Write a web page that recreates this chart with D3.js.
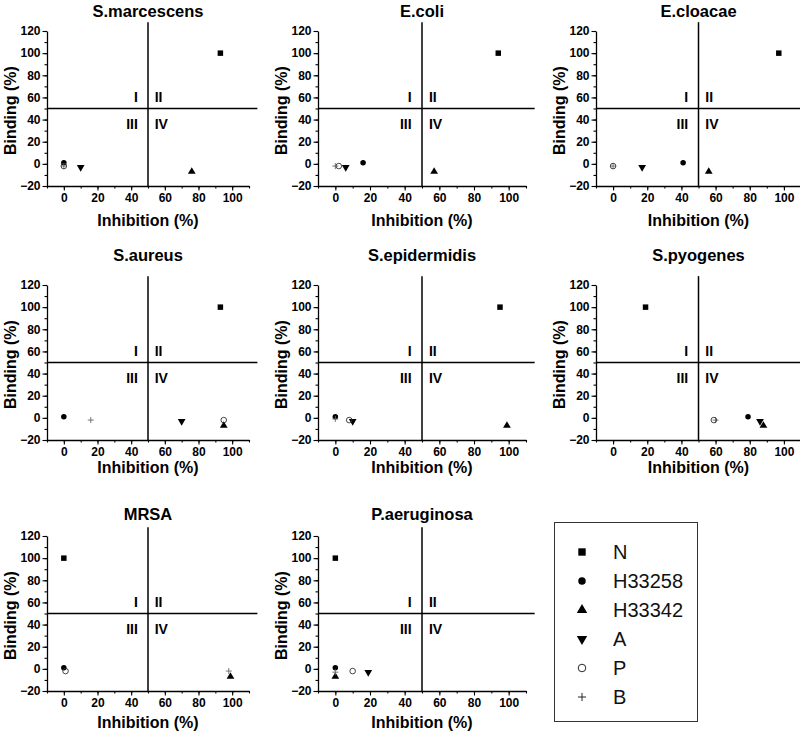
<!DOCTYPE html>
<html><head><meta charset="utf-8">
<script src="https://cdn.jsdelivr.net/npm/d3@7"></script>
<style>
body{margin:0;background:#fff;}
svg{display:block;font-family:"Liberation Sans",Arial,sans-serif;}
</style></head>
<body><svg id="chart" width="800" height="733"></svg>
<script>
// ---- data ----
const panels = ["S.marcescens","E.coli","E.cloacae","S.aureus","S.epidermidis","S.pyogenes","MRSA","P.aeruginosa"];
const seriesNames = ["N","H33258","H33342","A","P","B"];
const nInhibition      = [93, 94, 97, 93, 95, 19, 0, 0];
const nBinding         = [100,100,100,100,100,100,100,100];
const h33258Inhibition = [0, 16, 41, 0, 0, 79, 0, 0];
const h33258Binding    = [1, 1, 1, 1, 1, 1, 1, 1];
const h33342Inhibition = [76, 57, 56, 95, 99, 88, 99, 0];
const h33342Binding    = [-7, -7, -7, -7, -7, -7, -7, -7];
const aInhibition      = [10, 6, 17, 70, 10, 86, null, 19];
const aBinding         = [-3, -3, -3, -3, -3, -3, null, -3];
const pInhibition      = [0, 2, 0, 95, 8, 59, 1, 10];
const pBinding         = [-2, -2, -2, -2, -2, -2, -2, -2];
const bInhibition      = [0, 0, 0, 16, 0, 60, 98, 0];
const bBinding         = [-2, -2, -2, -2, -1, -2, -2, -3];
const xTicks = [0, 20, 40, 60, 80, 100];
const yTicks = [-20, 0, 20, 40, 60, 80, 100, 120];
const quadrantLabels = ["I","II","III","IV"];
const xLabel = "Inhibition (%)", yLabel = "Binding (%)";

const seriesData = [
  {name:"N", x:nInhibition, y:nBinding},
  {name:"H33258", x:h33258Inhibition, y:h33258Binding},
  {name:"H33342", x:h33342Inhibition, y:h33342Binding},
  {name:"A", x:aInhibition, y:aBinding},
  {name:"P", x:pInhibition, y:pBinding},
  {name:"B", x:bInhibition, y:bBinding}
];

// ---- layout ----
const colLeft = [47, 318, 596], colWidth = [202, 208, 205];
const rowTop = [31, 285, 536], plotH = 155;
const titleOff = [14, 24, 16], xLabOff = [40, 33, 37];

const svg = d3.select("#chart");

function marker(g, name, big, x, y) {
  const s = big ? 1.35 : 1;
  if (name === "N") {
    g.append("path").attr("d", d3.symbol(d3.symbolSquare, 30*s*s)()).attr("transform",`translate(${x},${y})`).attr("fill","#000");
  } else if (name === "H33258") {
    g.append("path").attr("d", d3.symbol(d3.symbolCircle, 24*s*s)()).attr("transform",`translate(${x},${y})`).attr("fill","#000");
  } else if (name === "H33342") {
    g.append("path").attr("d", d3.symbol(d3.symbolTriangle, 26*s*s)()).attr("transform",`translate(${x},${y})`).attr("fill","#000");
  } else if (name === "A") {
    g.append("path").attr("d", d3.symbol(d3.symbolTriangle, 26*s*s)()).attr("transform",`translate(${x},${y}) rotate(180)`).attr("fill","#000");
  } else if (name === "P") {
    g.append("circle").attr("cx",x).attr("cy",y).attr("r",2.8*s).attr("fill","none").attr("stroke", big ? "#111" : "#333").attr("stroke-width",0.9);
  } else if (name === "B") {
    const h = 3*s;
    g.append("path").attr("d",`M${x-h},${y}H${x+h}M${x},${y-h}V${y+h}`).attr("stroke", big ? "#111" : "#666").attr("stroke-width",0.9).attr("fill","none");
  }
}

panels.forEach((title, i) => {
  const r = Math.floor(i/3), c = i%3;
  const left = colLeft[c], top = rowTop[r], w = colWidth[c];
  const x = d3.scaleLinear().domain([-10,110]).range([left, left+w]);
  const y = d3.scaleLinear().domain([-20,120]).range([top+plotH, top]);
  const g = svg.append("g");

  // axes
  const xMinor = d3.range(-10, 111, 10);
  const yMinor = d3.range(-20, 121, 10);
  g.append("g").attr("transform",`translate(0,${top+plotH})`)
    .call(d3.axisBottom(x).tickValues(xMinor).tickSize(2.5).tickFormat("").tickSizeOuter(0))
    .call(a=>a.select(".domain").remove());
  g.append("g").attr("transform",`translate(${left},0)`)
    .call(d3.axisLeft(y).tickValues(yMinor).tickSize(2.5).tickFormat("").tickSizeOuter(0))
    .call(a=>a.select(".domain").remove());
  const xa = g.append("g").attr("transform",`translate(0,${top+plotH})`)
    .call(d3.axisBottom(x).tickValues(xTicks).tickSize(4.5).tickSizeOuter(0).tickPadding(3));
  const ya = g.append("g").attr("transform",`translate(${left},0)`)
    .call(d3.axisLeft(y).tickValues(yTicks).tickSize(4.5).tickSizeOuter(0).tickPadding(2));
  [xa, ya].forEach(a => {
    a.selectAll("text").attr("font-size",12).attr("font-weight","bold").attr("font-family","Liberation Sans, Arial, sans-serif").attr("fill","#000");
  });
  g.selectAll(".domain").attr("stroke","#000").attr("stroke-width",1.3);
  g.selectAll(".tick line").attr("stroke","#000").attr("stroke-width",1.1);

  // quadrant dividers
  g.append("line").attr("x1",x(50)).attr("x2",x(50)).attr("y1",y(-20)).attr("y2",y(128))
    .attr("stroke","#000").attr("stroke-width",1.5);
  g.append("line").attr("x1",x(-10)).attr("x2",x(115)).attr("y1",y(50)).attr("y2",y(50))
    .attr("stroke","#000").attr("stroke-width",1.5);

  // quadrant labels
  const ql = [[44,60,"end"],[54,60,"start"],[44,36,"end"],[54,36,"start"]];
  ql.forEach((q,k)=>{
    g.append("text").attr("x",x(q[0])).attr("y",y(q[1])).attr("text-anchor",q[2])
      .attr("dominant-baseline","central").attr("font-size",14).attr("font-weight","bold")
      .text(quadrantLabels[k]);
  });

  // title & labels
  g.append("text").attr("x",(left + left+w)/2).attr("y",top - titleOff[r])
    .attr("text-anchor","middle").attr("font-size",16.5).attr("font-weight","bold").text(title);
  g.append("text").attr("x",(left + left+w)/2).attr("y",top+plotH+xLabOff[r])
    .attr("text-anchor","middle").attr("font-size",16).attr("font-weight","bold").text(xLabel);
  g.append("text").attr("transform",`translate(${left-37},${top+plotH/2 + 2}) rotate(-90)`)
    .attr("text-anchor","middle").attr("dominant-baseline","central")
    .attr("font-size",16).attr("font-weight","bold").text(yLabel);

  // points
  const order = ["N","H33342","A","H33258","B","P"];
  order.forEach(nm => {
    const s = seriesData.find(d=>d.name===nm);
    const xv = s.x[i], yv = s.y[i];
    if (xv == null || yv == null) return;
    marker(g, nm, false, x(xv), y(yv));
  });
});

// legend
const lg = svg.append("g");
lg.append("rect").attr("x",554.5).attr("y",522.5).attr("width",143).attr("height",199)
  .attr("fill","none").attr("stroke","#333").attr("stroke-width",1);
seriesNames.forEach((nm,k)=>{
  const cy = 552 + k*29;
  marker(lg, nm, true, 582, cy);
  lg.append("text").attr("x",613).attr("y",cy).attr("dominant-baseline","central")
    .attr("font-size",20).attr("fill","#111").text(nm);
});
</script></body></html>
